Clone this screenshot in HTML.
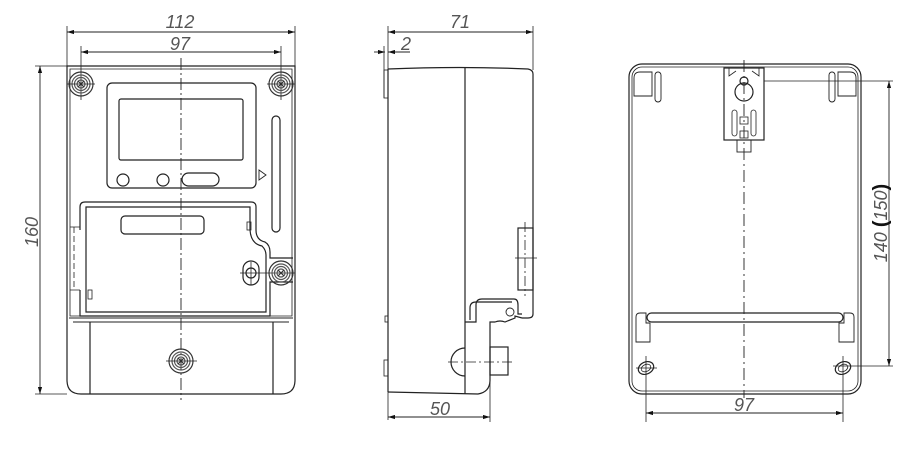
<!DOCTYPE html>
<html><head><meta charset="utf-8"><style>
html,body{margin:0;padding:0;background:#fff;}
svg{display:block;}
text{font-family:"Liberation Sans",sans-serif;font-style:italic;fill:#555;font-size:18px;}
</style></head><body>
<svg width="922" height="455" viewBox="0 0 922 455" xmlns="http://www.w3.org/2000/svg">
<defs>
<marker id="a" viewBox="0 0 10 6" refX="10" refY="3" markerWidth="8" markerHeight="5" orient="auto-start-reverse"><path d="M0,0L10,3L0,6z" fill="#111"/></marker>
<g id="scr"><circle r="12" fill="none" stroke="#333" stroke-width="1.2"/><circle r="9" fill="none" stroke="#555"/><circle r="6.5" fill="none" stroke="#555"/><circle r="4" fill="none" stroke="#555"/><line x1="-3" y1="-3" x2="3" y2="3" stroke="#333"/><line x1="-3" y1="3" x2="3" y2="-3" stroke="#333"/></g>
</defs>
<g fill="none" stroke="#222" stroke-width="1.2">
<!-- FRONT VIEW -->
<line x1="67" y1="26" x2="67" y2="66" stroke-width="0.8"/><line x1="295" y1="26" x2="295" y2="260" stroke-width="0.8"/>
<line x1="67" y1="32" x2="295" y2="32" marker-start="url(#a)" marker-end="url(#a)" stroke-width="0.9"/>
<line x1="81" y1="46" x2="81" y2="100" stroke-width="0.8"/><line x1="281" y1="46" x2="281" y2="100" stroke-width="0.8"/>
<line x1="81" y1="52" x2="281" y2="52" marker-start="url(#a)" marker-end="url(#a)" stroke-width="0.9"/>
<line x1="35" y1="66" x2="290" y2="66" stroke-width="0.8"/><line x1="35" y1="394" x2="67" y2="394" stroke-width="0.8"/>
<line x1="40" y1="66" x2="40" y2="394" marker-start="url(#a)" marker-end="url(#a)" stroke-width="0.9"/>
<path d="M67,66 H295 V380 Q295,394 281,394 H81 Q67,394 67,380 Z"/>
<path d="M70,69 H292 V316 H70 Z" stroke-width="0.8"/>
<rect x="107" y="83" width="149" height="105" rx="5"/>
<rect x="119" y="99" width="124" height="61" rx="2"/>
<circle cx="123" cy="180" r="6"/><circle cx="163" cy="180" r="6"/>
<rect x="182" y="173" width="37" height="13" rx="6.5"/>
<path d="M259,170 L266,175 L259,180 Z" stroke-width="0.9"/>
<rect x="272" y="116" width="8" height="116" rx="4"/>
<path d="M80,230 V207 Q80,202 85,202 H251 Q256,202 256,207 V230 Q256,240 265,242 Q270,245 270,252 V258 H293"/>
<path d="M86,207 H250 V230 Q251,244 262,246 Q266,250 266,255 V312 H86 Z"/>
<path d="M80,290 V316 H270 V282 H293" />
<rect x="121" y="216" width="83" height="18" rx="4"/>
<rect x="247" y="222" width="4" height="8" stroke-width="0.8"/>
<rect x="88" y="290" width="4" height="9" stroke-width="0.8"/>
<path d="M70,227 H80 M70,290 H80" stroke-width="0.8"/>
<line x1="74" y1="227" x2="74" y2="290" stroke-dasharray="6,3" stroke-width="0.8"/>
<rect x="243" y="261" width="16" height="24" rx="8"/><circle cx="251" cy="273" r="5"/>
<line x1="240" y1="273" x2="295" y2="273" stroke-width="0.8"/><line x1="251" y1="262" x2="251" y2="285" stroke-width="0.8"/>
<path d="M69,318 H293 M73,322 H289" stroke-width="1"/>
<line x1="90" y1="322" x2="90" y2="394"/><line x1="273" y1="322" x2="273" y2="394"/>
<line x1="181" y1="58" x2="181" y2="400" stroke-dasharray="12,3,2,3" stroke-width="0.9"/>
<use href="#scr" x="81" y="84"/><use href="#scr" x="281" y="84"/><use href="#scr" x="281" y="273"/><use href="#scr" x="181" y="361"/>
<line x1="67" y1="84" x2="95" y2="84" stroke-width="0.8"/><line x1="267" y1="84" x2="295" y2="84" stroke-width="0.8"/><line x1="166" y1="361" x2="197" y2="361" stroke-width="0.8"/>

<!-- SIDE VIEW -->
<line x1="388" y1="26" x2="388" y2="420" stroke-width="0.8"/><line x1="533" y1="26" x2="533" y2="70" stroke-width="0.8"/>
<line x1="388" y1="32" x2="533" y2="32" marker-start="url(#a)" marker-end="url(#a)" stroke-width="0.9"/>
<line x1="374" y1="52" x2="385" y2="52" marker-end="url(#a)" stroke-width="0.9"/>
<line x1="410" y1="52" x2="388" y2="52" marker-end="url(#a)" stroke-width="0.9"/>
<line x1="384" y1="46" x2="384" y2="98" stroke-width="0.8"/>
<path d="M388,69 Q460,66 528,69 Q533,70 533,74 V314 Q533,318 528,318 H522"/>
<line x1="388" y1="69" x2="388" y2="392"/>
<line x1="465" y1="67" x2="465" y2="394"/>
<rect x="384" y="70" width="4" height="28" stroke-width="0.8"/>
<rect x="385" y="316" width="3" height="6" stroke-width="0.8"/><rect x="384" y="360" width="4" height="16" stroke-width="0.8"/>
<path d="M388,392 Q440,393 478,394 Q490,392 490,380 V322 H495 Q500,320 505,322 Q510,320 515,318 V316 L522,318"/>
<path d="M465,322 H476 V305 Q476,299 482,299 H514 Q518,299 518,305 V314 H522"/>
<path d="M470,320 V308 Q470,302 476,302 H512"/>
<circle cx="510" cy="312" r="4" stroke-width="0.9"/>
<rect x="490" y="347" width="18" height="28"/>
<path d="M465,348 A14,14 0 0 0 465,376"/>
<line x1="448" y1="362" x2="515" y2="362" stroke-dasharray="10,3,2,3" stroke-width="0.8"/>
<rect x="518" y="228" width="15" height="62"/>
<line x1="525" y1="222" x2="525" y2="296" stroke-dasharray="10,3,2,3" stroke-width="0.8"/>
<line x1="515" y1="258" x2="537" y2="258" stroke-width="0.8"/>
<line x1="490" y1="380" x2="490" y2="422" stroke-width="0.8"/>
<line x1="388" y1="417" x2="490" y2="417" marker-start="url(#a)" marker-end="url(#a)" stroke-width="0.9"/>

<!-- BACK VIEW -->
<rect x="629" y="64" width="232" height="330" rx="13"/>
<rect x="632" y="67" width="226" height="324" rx="10" stroke-width="0.8"/>
<path d="M634,96 V78 Q634,72 640,72 H652 V96 Z" stroke-width="0.9"/>
<rect x="655" y="72" width="6" height="30" rx="3" stroke-width="0.9"/>
<path d="M856,96 V78 Q856,72 850,72 H838 V96 Z" stroke-width="0.9"/>
<rect x="829" y="72" width="6" height="30" rx="3" stroke-width="0.9"/>
<rect x="724" y="68" width="40" height="72"/>
<path d="M729,68 V76 L736,71 M759,68 V76 L752,71" stroke-width="0.8"/>
<circle cx="744" cy="92" r="9"/><circle cx="744" cy="81" r="4"/>
<rect x="732" y="110" width="5" height="26" rx="2.5" stroke-width="0.8"/><rect x="751" y="110" width="5" height="26" rx="2.5" stroke-width="0.8"/>
<rect x="740" y="117" width="8" height="7" stroke-width="0.8"/><rect x="740" y="131" width="8" height="7" stroke-width="0.8"/>
<rect x="737" y="140" width="14" height="12" stroke-width="0.9"/>
<line x1="744" y1="60" x2="744" y2="398" stroke-dasharray="12,4,2,4" stroke-width="0.9"/>
<line x1="764" y1="81" x2="893" y2="81" stroke-width="0.8"/>
<rect x="647" y="313" width="196" height="9" rx="4.5"/>
<path d="M636,342 V317 Q636,313 640,313 H646 V323 H650 V342 Z" stroke-width="0.9"/>
<path d="M854,342 V317 Q854,313 850,313 H844 V323 H839 V342 Z" stroke-width="0.9"/>
<ellipse cx="646" cy="368" rx="8" ry="6" transform="rotate(-25 646 368)"/><ellipse cx="646" cy="368" rx="5" ry="3.5" transform="rotate(-25 646 368)" stroke-width="0.8"/>
<ellipse cx="843" cy="368" rx="8" ry="6" transform="rotate(-25 843 368)"/><ellipse cx="843" cy="368" rx="5" ry="3.5" transform="rotate(-25 843 368)" stroke-width="0.8"/>
<line x1="636" y1="368" x2="657" y2="368" stroke-width="0.8"/><line x1="833" y1="366" x2="893" y2="366" stroke-width="0.8"/>
<line x1="646" y1="356" x2="646" y2="422" stroke-width="0.8"/><line x1="843" y1="356" x2="843" y2="422" stroke-width="0.8"/>
<line x1="646" y1="413" x2="843" y2="413" marker-start="url(#a)" marker-end="url(#a)" stroke-width="0.9"/>
<line x1="889" y1="81" x2="889" y2="366" marker-start="url(#a)" marker-end="url(#a)" stroke-width="0.9"/>
</g>
<text x="180" y="28" text-anchor="middle">112</text>
<text x="180" y="50" text-anchor="middle">97</text>
<text transform="translate(38,232) rotate(-90)" text-anchor="middle">160</text>
<text x="460" y="28" text-anchor="middle">71</text>
<text x="406" y="50" text-anchor="middle">2</text>
<text x="440" y="415" text-anchor="middle">50</text>
<text x="744" y="411" text-anchor="middle">97</text>
<text transform="translate(887,223) rotate(-90)" text-anchor="middle">140 <tspan font-weight="bold" font-style="normal" fill="#111" font-size="20">(</tspan>150<tspan font-weight="bold" font-style="normal" fill="#111" font-size="20">)</tspan></text>
</svg>
</body></html>
